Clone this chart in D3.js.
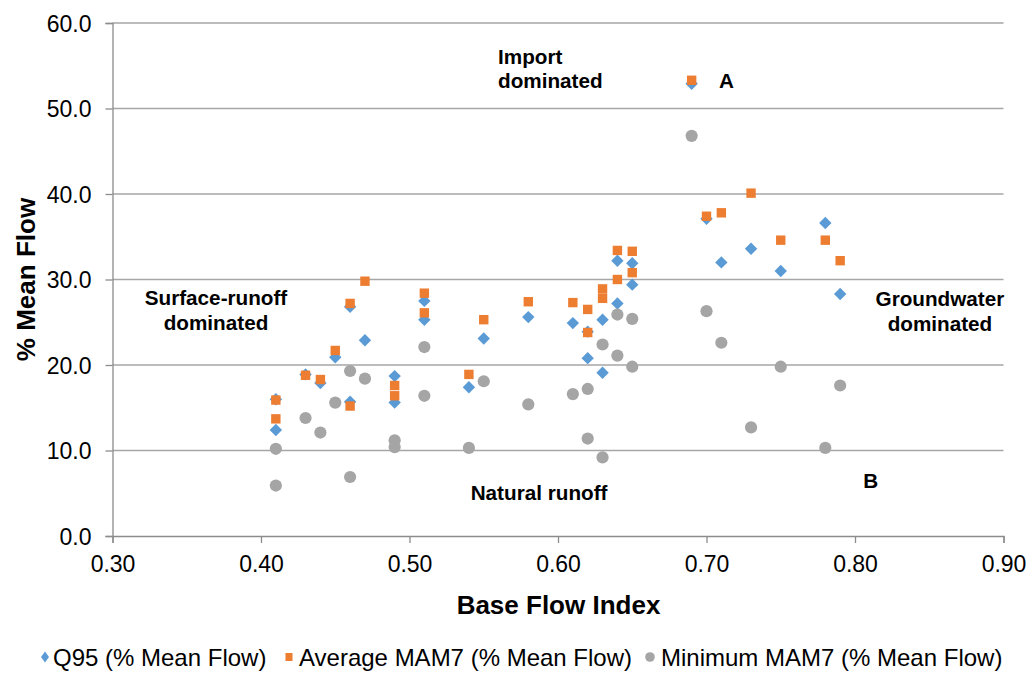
<!DOCTYPE html>
<html>
<head>
<meta charset="utf-8">
<script src="https://cdn.jsdelivr.net/npm/d3@7"></script>
<style>
  html, body { margin: 0; padding: 0; background: #fff; }
  svg { display: block; }
  text { font-family: "Liberation Sans", Arial, sans-serif; fill: #000; }
</style>
</head>
<body>
<svg id="chart" width="1036" height="673"></svg>
<script>
// ---- Data ----
const bfi     = [0.41,0.41,0.43,0.44,0.45,0.46,0.46,0.47,0.49,0.49,0.51,0.51,0.54,0.55,0.58,0.61,0.62,0.62,0.63,0.63,0.64,0.64,0.65,0.65,0.69,0.70,0.71,0.73,0.75,0.78,0.79];
const q95     = [16.0,12.4,18.9,17.9,20.9,26.8,15.7,22.9,18.7,15.6,27.5,25.3,17.4,23.1,25.6,24.9,23.9,20.8,25.3,19.1,32.2,27.2,31.9,29.4,52.9,37.1,32.0,33.6,31.0,36.6,28.3];
const mam7Avg = [15.9,13.7,18.8,18.3,21.7,27.2,15.2,29.8,17.6,16.4,28.4,26.1,18.9,25.3,27.4,27.3,26.5,23.8,28.9,27.8,33.4,30.0,33.3,30.8,53.3,37.4,37.8,40.1,34.6,34.6,32.2];
const mam7Min = [10.2,5.9,13.8,12.1,15.6,19.3,6.9,18.4,11.2,10.4,22.1,16.4,10.3,18.1,15.4,16.6,17.2,11.4,22.4,9.2,25.9,21.1,25.4,19.8,46.8,26.3,22.6,12.7,19.8,10.3,17.6];

const xTicks = [0.30,0.40,0.50,0.60,0.70,0.80,0.90];
const yTicks = [0,10,20,30,40,50,60];
const seriesNames = ["Q95 (% Mean Flow)", "Average MAM7 (% Mean Flow)", "Minimum MAM7 (% Mean Flow)"];

// Annotation texts, anchored in data units
const annotations = [
  {text: "Import",         x: 0.5596, y: 55.2, anchor: "start"},
  {text: "dominated",      x: 0.5596, y: 52.35, anchor: "start"},
  {text: "A",              x: 0.7084, y: 52.4, anchor: "start"},
  {text: "Surface-runoff", x: 0.3697, y: 27.0, anchor: "middle"},
  {text: "dominated",      x: 0.3697, y: 24.05, anchor: "middle"},
  {text: "Groundwater",    x: 0.8572, y: 26.9, anchor: "middle"},
  {text: "dominated",      x: 0.8572, y: 24.0, anchor: "middle"},
  {text: "Natural runoff", x: 0.5412, y: 4.2, anchor: "start"},
  {text: "B",              x: 0.8056, y: 5.6, anchor: "start"}
];

// ---- Layout ----
const svg = d3.select("#chart");
const pL = 112.5, pR = 1003.5, pT = 23, pB = 536;
const x = d3.scaleLinear().domain([0.3, 0.9]).range([pL, pR]);
const y = d3.scaleLinear().domain([0, 60]).range([pB, pT]);

const colors = ["#5b9bd5", "#ed7d31", "#a5a5a5"];
const FONT = "Liberation Sans, Arial, sans-serif";

// gridlines
svg.append("g").selectAll("line").data(yTicks.filter(d => d > 0)).join("line")
  .attr("x1", pL).attr("x2", pR)
  .attr("y1", d => y(d)).attr("y2", d => y(d))
  .attr("stroke", "#a6a6a6").attr("stroke-width", 1.3);

// y axis
const yAxis = svg.append("g").attr("transform", `translate(${pL},0)`)
  .call(d3.axisLeft(y).tickValues(yTicks).tickFormat(d3.format(".1f")).tickSize(7).tickPadding(14));
yAxis.select(".domain").attr("stroke", "#8c8c8c").attr("stroke-width", 1.3);
yAxis.selectAll(".tick line").attr("stroke", "#8c8c8c").attr("stroke-width", 1.3);
yAxis.selectAll(".tick text").attr("font-size", 23).attr("font-family", FONT).attr("fill", "#000").attr("dy", "0.36em");

// x axis
const xAxis = svg.append("g").attr("transform", `translate(0,${pB})`)
  .call(d3.axisBottom(x).tickValues(xTicks).tickFormat(d3.format(".2f")).tickSize(7).tickPadding(12));
xAxis.select(".domain").attr("stroke", "#8c8c8c").attr("stroke-width", 1.3);
xAxis.selectAll(".tick line").attr("stroke", "#8c8c8c").attr("stroke-width", 1.3);
xAxis.selectAll(".tick text").attr("font-size", 23).attr("font-family", FONT).attr("fill", "#000").attr("dy", "0.73em");

// axis titles
svg.append("text").attr("x", (pL + pR) / 2 + 0.5).attr("y", 614)
  .attr("text-anchor", "middle").attr("font-size", 26).attr("font-weight", "bold")
  .text("Base Flow Index");
svg.append("text").attr("transform", `translate(35,${(pT + pB) / 2}) rotate(-90)`)
  .attr("text-anchor", "middle").attr("font-size", 26).attr("font-weight", "bold")
  .text("% Mean Flow");

// ---- Points ----
const pts = svg.append("g");
// Q95 diamonds
pts.append("g").selectAll("path").data(bfi.map((b, i) => [b, q95[i]])).join("path")
  .attr("d", "M0,-6.2L6.2,0L0,6.2L-6.2,0Z")
  .attr("transform", d => `translate(${x(d[0])},${y(d[1])})`)
  .attr("fill", colors[0]);
// Average MAM7 squares
pts.append("g").selectAll("rect").data(bfi.map((b, i) => [b, mam7Avg[i]])).join("rect")
  .attr("x", d => x(d[0]) - 4.7).attr("y", d => y(d[1]) - 4.7)
  .attr("width", 9.4).attr("height", 9.4)
  .attr("fill", colors[1]);
// Minimum MAM7 circles
pts.append("g").selectAll("circle").data(bfi.map((b, i) => [b, mam7Min[i]])).join("circle")
  .attr("cx", d => x(d[0])).attr("cy", d => y(d[1])).attr("r", 6.1)
  .attr("fill", colors[2]);

// ---- Annotations ----
svg.append("g").selectAll("text").data(annotations).join("text")
  .attr("x", d => x(d.x)).attr("y", d => y(d.y))
  .attr("text-anchor", d => d.anchor)
  .attr("font-size", 20.7).attr("font-weight", "bold")
  .text(d => d.text);

// ---- Legend ----
const legendY = 657;
const legendItems = [
  {name: seriesNames[0], mx: 45, tx: 53},
  {name: seriesNames[1], mx: 289, tx: 299},
  {name: seriesNames[2], mx: 650, tx: 661}
];
const lg = svg.append("g");
lg.append("path").attr("d", "M0,-5.5L4,0L0,5.5L-4,0Z")
  .attr("transform", `translate(${legendItems[0].mx},${legendY})`).attr("fill", colors[0]);
lg.append("rect").attr("x", legendItems[1].mx - 3.5).attr("y", legendY - 4)
  .attr("width", 7).attr("height", 8).attr("fill", colors[1]);
lg.append("circle").attr("cx", legendItems[2].mx).attr("cy", legendY).attr("r", 4.8).attr("fill", colors[2]);
lg.selectAll("text").data(legendItems).join("text")
  .attr("x", d => d.tx).attr("y", legendY + 8.5)
  .attr("font-size", 24).attr("fill", "#000")
  .text(d => d.name);
</script>
</body>
</html>
